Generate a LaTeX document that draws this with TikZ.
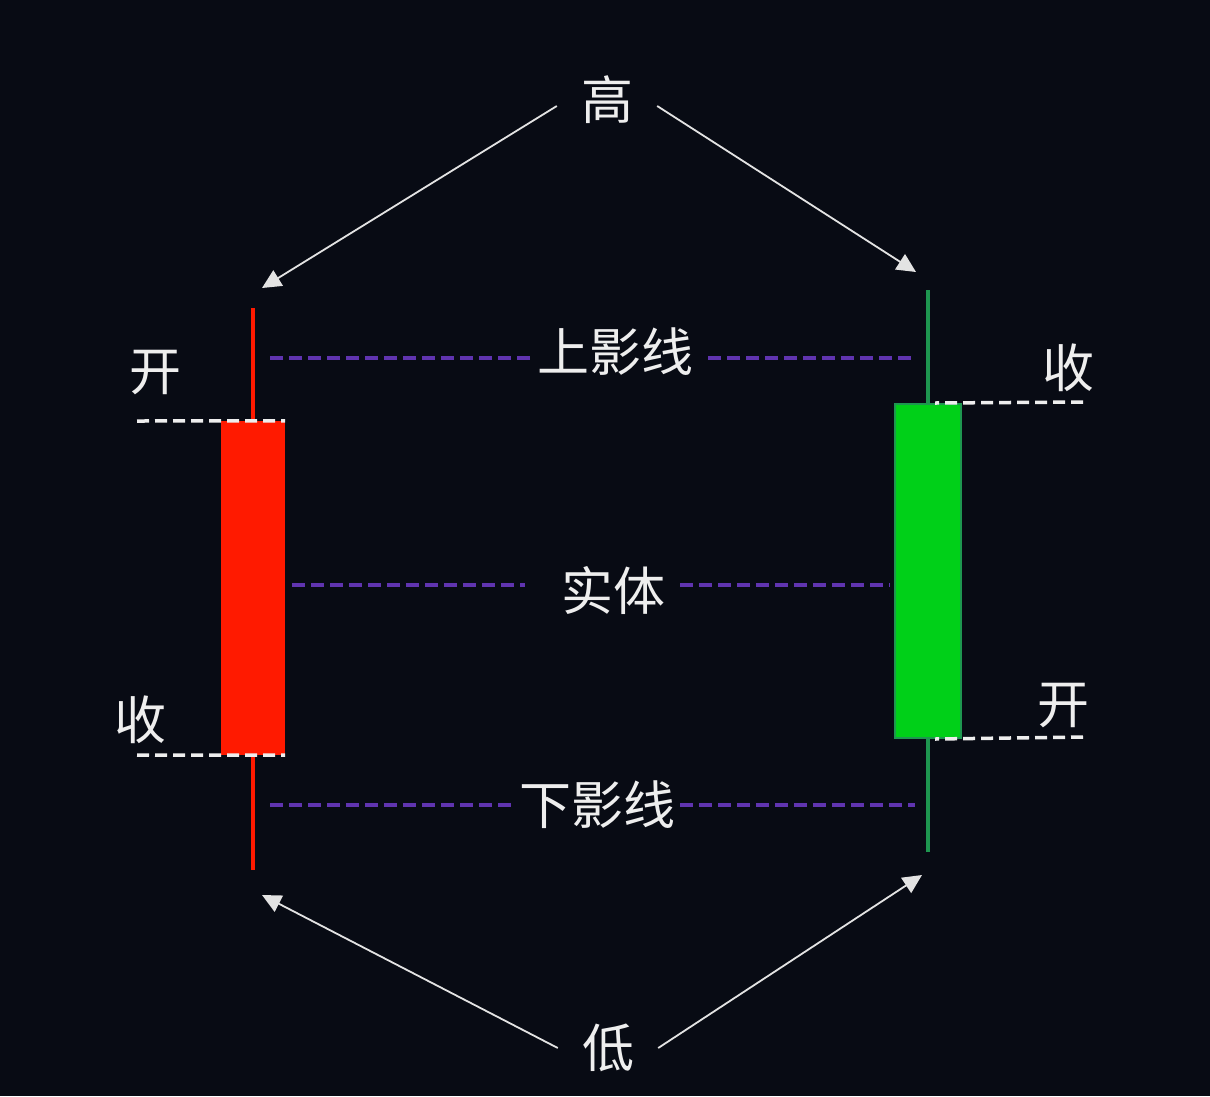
\documentclass[tikz,border=0pt]{standalone}
\usepackage{fontspec}
\newfontfamily\cjk{Noto Sans CJK SC}
\usetikzlibrary{arrows.meta}
\definecolor{bg}{RGB}{8,11,20}
\definecolor{cred}{RGB}{255,26,0}
\definecolor{cgreen}{RGB}{0,208,24}
\definecolor{cgreenline}{RGB}{30,150,80}
\definecolor{cpurple}{RGB}{96,52,176}
\definecolor{ctext}{RGB}{238,238,238}

\begin{document}
\begin{tikzpicture}[x=1pt,y=-1pt,
    lbl/.style={text=ctext,font=\cjk\fontsize{52}{56}\selectfont,inner sep=0pt},
    wdash/.style={ctext,line width=3.5pt,dash pattern=on 12pt off 6pt},
    pdash/.style={cpurple,line width=3.5pt,dash pattern=on 13pt off 6pt},
    ptr/.style={ctext!90!gray,line width=1.8pt,-{Triangle[length=19pt,width=18pt]}}]
      \fill[bg] (0,0) rectangle (1210,1096);
      % red candle
      \coordinate (rhigh) at (253,308);
      \coordinate (rlow) at (253,870);
      \draw[cred,line width=4pt] (rhigh) -- (rlow);
      \node[fill=cred,minimum width=64pt,minimum height=334pt,inner sep=0pt] (rbody) at (253,588) {};
      % green candle
      \coordinate (ghigh) at (928,290);
      \coordinate (glow) at (928,852);
      \draw[cgreenline,line width=4pt] (ghigh) -- (glow);
      \node[fill=cgreen,draw=cgreenline,line width=2pt,minimum width=66pt,minimum height=334pt,inner sep=0pt] (gbody) at (928,571) {};
      % open / close marks
      \coordinate (ropen) at (137,421);
      \coordinate (rclose) at (137,755);
      \coordinate (gclose) at (1083,402);
      \coordinate (gopen) at (1083,737);
      \draw[wdash] (ropen) -- (rbody.north east);
      \draw[wdash] (rclose) -- (rbody.south east);
      \draw[wdash] (gclose) -- ([xshift=7pt]gbody.north -| ghigh);
      \draw[wdash] (gopen) -- ([xshift=7pt]gbody.south -| glow);
      \node[lbl] (kaiL) at (155,373) {开};
      \node[lbl] (shouL) at (140,720) {收};
      \node[lbl] (shouR) at (1068,368) {收};
      \node[lbl] (kaiR) at (1063,706) {开};
      % middle labels
      \node[lbl] (shang) at (615,352) {上影线};
      \node[lbl] (shiti) at (613,590) {实体};
      \node[lbl] (xia) at (597,805) {下影线};
      \coordinate (s1) at (270,358);
      \coordinate (s2) at (915,358);
      \coordinate (t1) at (292,585);
      \coordinate (t2) at (890,585);
      \coordinate (x1) at (270,805);
      \coordinate (x2) at (915,805);
      \draw[pdash] (s1) -- ([xshift=-3pt]shang.west |- s1);
      \draw[pdash] ([xshift=15pt]shang.east |- s2) -- (s2);
      \draw[pdash] (t1) -- ([xshift=-36pt]shiti.west |- t1);
      \draw[pdash] ([xshift=15pt]shiti.east |- t2) -- (t2);
      \draw[pdash] (x1) -- ([xshift=-3pt]xia.west |- x1);
      \draw[pdash] ([xshift=5pt]xia.east |- x2) -- (x2);
      % high / low
      \node[lbl,inner xsep=24pt] (gao) at (607,100) {高};
      \node[lbl,inner xsep=24pt] (di) at (608,1048) {低};
      \coordinate (gaoL) at (262,288);
      \coordinate (gaoR) at (916,272);
      \coordinate (diL) at (262,895);
      \coordinate (diR) at (922,875);
      \draw[ptr] ([yshift=-6pt]gao.west) -- (gaoL);
      \draw[ptr] ([yshift=-6pt]gao.east) -- (gaoR);
      \draw[ptr] (di.west) -- (diL);
      \draw[ptr] (di.east) -- (diR);
\end{tikzpicture}
\end{document}
